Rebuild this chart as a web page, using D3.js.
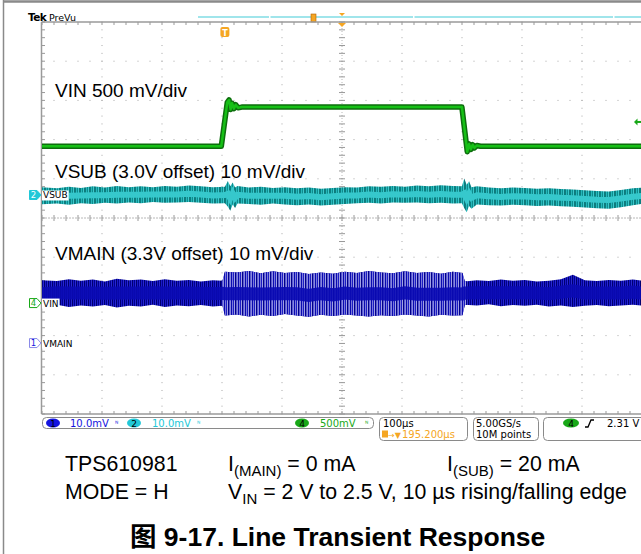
<!DOCTYPE html>
<html><head><meta charset="utf-8">
<script src="https://cdn.jsdelivr.net/npm/d3@7"></script>
<style>body{margin:0;background:#fff}svg{display:block}</style>
</head><body>
<svg id="c" width="641" height="554"></svg>
<script>
// ---------------- DATA ----------------
// screen: 10 horizontal divisions of 100 µs, 10 vertical divisions
const timePerDiv = 100;           // µs/div
const centerDelay = 195.2;        // µs, trigger -> screen centre
const chNames   = ["1", "2", "4"];
const chSignals = ["VMAIN", "VSUB", "VIN"];
const chScales  = [10, 10, 0.5];        // mV/div, mV/div, V/div
const chPositions = [-3.19, 0.587, -2.17]; // divisions of 0-level marker
const chColors  = ["#1414e0", "#22c8d8", "#18a818"];
const chReadouts = ["10.0mV", "10.0mV", "500mV"];

// VIN (V) — channel 4
const vinT = [-310, -6, 4, 7, 9.5, 12, 15, 18, 22, 28, 395, 404, 407, 410, 413, 416, 420, 426, 700];
const vinV = [2.0, 2.0, 2.56, 2.59, 2.47, 2.55, 2.48, 2.53, 2.49, 2.5, 2.5, 1.93, 2.03, 1.96, 2.02, 1.98, 2.01, 2.0, 2.0];

// VSUB envelope (mV about 3.0 V offset) — channel 2
const vsubT  = [-310,-280,-260,-240,-220,-200,-180,-160,-140,-120,-100,-80,-60,-40,-20,0,5,9,13,17,21,40,60,80,100,120,140,160,180,200,220,240,260,280,300,320,340,360,380,395,399,403,407,411,420,440,460,480,500,520,540,560,580,600,620,640,660,680,700];
const vsubHi = [2.0,1.7,2.1,1.8,2.2,1.9,2.3,2.0,2.2,2.0,2.3,2.1,2.4,2.2,2.0,2.1,3.6,2.2,3.2,1.9,2.3,1.9,2.1,1.8,2.0,1.7,1.9,1.6,1.8,2.0,1.9,2.2,2.1,2.3,2.1,2.4,2.2,2.5,2.3,2.2,4.2,2.6,3.5,2.0,2.2,1.9,1.7,1.9,1.8,1.6,1.7,1.5,1.4,1.2,1.0,0.9,1.3,1.7,1.9];
const vsubLo = [-2.4,-2.2,-2.5,-2.1,-2.3,-2.0,-2.2,-1.9,-2.1,-1.8,-2.0,-1.9,-1.8,-2.0,-2.2,-2.1,-3.0,-4.0,-2.4,-3.3,-2.2,-2.3,-2.5,-2.2,-2.4,-2.6,-2.4,-2.7,-2.5,-2.3,-2.1,-2.0,-2.2,-1.9,-2.0,-1.9,-2.1,-2.0,-2.2,-2.1,-3.4,-4.4,-2.8,-3.5,-2.4,-2.6,-2.7,-2.5,-2.6,-2.8,-2.7,-2.9,-3.0,-3.2,-3.4,-3.5,-3.1,-2.6,-2.2];

// VMAIN envelope (mV about 3.3 V offset) — channel 1
const vmainT  = [-310,-280,-260,-240,-220,-200,-180,-160,-140,-120,-100,-80,-60,-40,-20,-4,0,20,40,60,80,100,120,140,160,180,200,220,240,260,280,300,320,340,360,380,396,400,420,440,460,480,500,520,540,560,580,600,620,640,660,680,700];
const vmainHi = [16.1,15.8,16.3,15.9,16.2,15.7,16.4,16.0,16.2,15.8,16.3,15.9,16.1,15.7,16.0,15.9,18.2,18.0,18.4,17.8,18.3,17.9,18.1,17.6,18.0,17.7,18.2,17.9,18.4,18.0,17.8,18.3,17.9,18.1,17.7,18.2,17.9,15.7,16.0,15.8,16.2,15.9,16.1,15.7,15.9,16.3,17.4,16.0,15.8,16.1,15.9,16.2,15.8];
const vmainLo = [9.0,9.8,9.2,9.6,9.3,9.7,9.1,9.5,9.3,9.8,9.2,9.6,9.4,9.7,9.3,9.5,7.0,7.3,6.8,7.2,6.9,7.4,7.0,6.7,7.2,6.9,7.3,7.0,6.8,7.1,6.9,7.3,7.0,6.8,7.2,7.0,7.1,9.8,9.6,9.9,9.4,9.7,9.5,9.8,9.3,9.6,9.2,9.5,9.7,9.4,9.6,9.8,9.5];

const trigLevel = 2.31; // V on channel 4
const traceLabels = ["VIN 500 mV/div", "VSUB (3.0V offset) 10 mV/div", "VMAIN (3.3V offset) 10 mV/div"];
const timebaseText = "100µs", delayText = "195.200µs", rateText = "5.00GS/s", recText = "10M points", trigText = "2.31 V";

// ---------------- SCALES ----------------
const svg = d3.select("#c");
const X0 = 42, X1 = 642, Y0 = 22, Y1 = 414;
const xDiv = d3.scaleLinear().domain([-5, 5]).range([X0, X1]);
const yDiv = d3.scaleLinear().domain([-5, 5]).range([Y1, Y0]);
const x = d3.scaleLinear().domain([centerDelay - 5 * timePerDiv, centerDelay + 5 * timePerDiv]).range([X0, X1]);
const chY = i => d3.scaleLinear().domain([0, chScales[i]]).range([yDiv(chPositions[i]), yDiv(chPositions[i] + 1)]);
const y1 = chY(0), y2 = chY(1), y4 = chY(2);

const defs = svg.append("defs");
defs.append("clipPath").attr("id", "plot").append("rect").attr("x", X0).attr("y", Y0).attr("width", X1 - X0).attr("height", Y1 - Y0);
function stripes(id, cols, h) {
  const p = defs.append("pattern").attr("id", id).attr("patternUnits", "userSpaceOnUse")
    .attr("width", cols.length).attr("height", h || 5);
  cols.forEach((c, i) => p.append("rect").attr("x", i).attr("y", 0).attr("width", 1).attr("height", h || 5).attr("fill", c));
}
stripes("cyanS", ["#0b7f80", "#26b8bb", "#0e8c8e", "#3cc9cc", "#127a7c"]);
stripes("blueDark", ["#00006e", "#1a1ac8", "#000090", "#2828d0"]);
stripes("blueLight", ["#0a0ab0", "#7a7ad8", "#1c1cc4", "#a0a0e4", "#000088", "#5a5ad0", "#8888dc"]);

// ---------------- FRAME ----------------
svg.append("line").attr("x1", 3.5).attr("x2", 3.5).attr("y1", 0).attr("y2", 554).attr("stroke", "#8a8a8a").attr("stroke-width", 1.5);
svg.append("line").attr("x1", 3).attr("x2", 641).attr("y1", 1.5).attr("y2", 1.5).attr("stroke", "#8a8a8a").attr("stroke-width", 2.5);

svg.append("text").attr("x", 28).attr("y", 21).attr("font-family", "DejaVu Sans").attr("font-size", 10.5).attr("font-weight", "bold").attr("letter-spacing", -0.6).text("Tek");
svg.append("text").attr("x", 49).attr("y", 21).attr("font-family", "DejaVu Sans").attr("font-size", 9.5).text("PreVu");

// record view bar
svg.append("line").attr("x1", 198).attr("x2", 641).attr("y1", 17).attr("y2", 17).attr("stroke", "#80dce4").attr("stroke-width", 1.5);
[269, 413, 613].forEach(g => svg.append("rect").attr("x", g).attr("y", 15).attr("width", 1.5).attr("height", 4).attr("fill", "#fff"));
svg.append("rect").attr("x", 311).attr("y", 14).attr("width", 5).attr("height", 8).attr("fill", "#f5a623").attr("stroke", "#b06000").attr("stroke-width", 0.6);
svg.append("path").attr("d", `M${x(centerDelay)-3},13 L${x(centerDelay)+3},13 L${x(centerDelay)},16 Z`).attr("fill", "#f5a623");

// ---------------- GRATICULE ----------------
const g = svg.append("g");
const dot = "#a8a8a8";
for (let i = -4; i <= 4; i++) {
  if (i === 0) continue;
  for (let k = 0; k <= 50; k++) {
    g.append("rect").attr("x", xDiv(i) - 0.5).attr("y", yDiv(-5 + k / 5) - 0.5).attr("width", 1).attr("height", 1).attr("fill", dot);
    g.append("rect").attr("x", xDiv(-5 + k / 5) - 0.5).attr("y", yDiv(i) - 0.5).attr("width", 1).attr("height", 1).attr("fill", dot);
  }
}
// centre lines
g.append("line").attr("x1", xDiv(0)).attr("x2", xDiv(0)).attr("y1", Y0).attr("y2", Y1).attr("stroke", "#b8b8b8").attr("stroke-dasharray", "1,2");
g.append("line").attr("x1", X0).attr("x2", X1).attr("y1", yDiv(0)).attr("y2", yDiv(0)).attr("stroke", "#b8b8b8").attr("stroke-dasharray", "2,1");
for (let k = 0; k <= 50; k++) {
  g.append("line").attr("x1", xDiv(0) - 3).attr("x2", xDiv(0) + 3).attr("y1", yDiv(-5 + k / 5)).attr("y2", yDiv(-5 + k / 5)).attr("stroke", "#999");
  g.append("line").attr("x1", xDiv(-5 + k / 5)).attr("x2", xDiv(-5 + k / 5)).attr("y1", yDiv(0) - 3).attr("y2", yDiv(0) + 3).attr("stroke", "#999");
  g.append("line").attr("x1", xDiv(-5 + k / 5)).attr("x2", xDiv(-5 + k / 5)).attr("y1", Y0).attr("y2", Y0 + 3).attr("stroke", "#999");
  g.append("line").attr("x1", xDiv(-5 + k / 5)).attr("x2", xDiv(-5 + k / 5)).attr("y1", Y1).attr("y2", Y1 - 3).attr("stroke", "#999");
  g.append("line").attr("x1", X0).attr("x2", X0 + 3).attr("y1", yDiv(-5 + k / 5)).attr("y2", yDiv(-5 + k / 5)).attr("stroke", "#999");
}
g.append("line").attr("x1", X0 - 0.5).attr("x2", X1).attr("y1", Y0).attr("y2", Y0).attr("stroke", "#9a9a9a").attr("stroke-width", 1.5);
g.append("line").attr("x1", X0 - 0.5).attr("x2", X1).attr("y1", Y1).attr("y2", Y1).attr("stroke", "#9a9a9a").attr("stroke-width", 1.5);
g.append("line").attr("x1", X0 - 0.5).attr("x2", X0 - 0.5).attr("y1", Y0).attr("y2", Y1).attr("stroke", "#9a9a9a").attr("stroke-width", 1.5);

// trigger position markers
svg.append("path").attr("d", `M${x(centerDelay)-4},23 L${x(centerDelay)+4},23 L${x(centerDelay)},27 Z`).attr("fill", "#f5a623");
svg.append("rect").attr("x", x(0) - 4.5).attr("y", 27).attr("width", 9).attr("height", 10).attr("rx", 2).attr("fill", "#f5a623");
svg.append("text").attr("x", x(0)).attr("y", 35.5).attr("text-anchor", "middle").attr("font-family", "DejaVu Sans").attr("font-weight", "bold").attr("font-size", 8).attr("fill", "#fff").text("T");

// ---------------- TRACES ----------------
const tr = svg.append("g").attr("clip-path", "url(#plot)");

// VMAIN
const vmainArea = d3.area().x((d, i) => x(vmainT[i])).y0((d, i) => y1(vmainLo[i])).y1((d, i) => y1(vmainHi[i]));
tr.append("path").attr("d", vmainArea(vmainT)).attr("fill", "url(#blueDark)");
defs.append("clipPath").attr("id", "burst").append("rect")
  .attr("x", x(vinT[1])).attr("y", Y0).attr("width", x(vinT[11]) - x(vinT[1])).attr("height", Y1 - Y0);
tr.append("g").attr("clip-path", "url(#burst)").append("path").attr("d", vmainArea(vmainT)).attr("fill", "url(#blueLight)");
const vmainMid = d3.line().x((d, i) => x(vmainT[i])).y((d, i) => y1((vmainHi[i] + vmainLo[i]) / 2));
tr.append("path").attr("d", vmainMid(vmainT)).attr("fill", "none").attr("stroke", "#0a0ab4").attr("stroke-width", 13).attr("opacity", 0.9);

// VSUB
const vsubArea = d3.area().x((d, i) => x(vsubT[i])).y0((d, i) => y2(vsubLo[i])).y1((d, i) => y2(vsubHi[i]));
tr.append("path").attr("d", vsubArea(vsubT)).attr("fill", "url(#cyanS)");
const vsubMid = d3.line().x((d, i) => x(vsubT[i])).y((d, i) => y2((vsubHi[i] + vsubLo[i]) / 2));
tr.append("path").attr("d", vsubMid(vsubT)).attr("fill", "none").attr("stroke", "#36c8cc").attr("stroke-width", 6);

// VIN
const vinLine = d3.line().x((d, i) => x(vinT[i])).y((d, i) => y4(vinV[i]));
tr.append("path").attr("d", vinLine(vinT)).attr("fill", "none").attr("stroke", "#0d6e0d").attr("stroke-width", 5.5).attr("stroke-linejoin", "round");
tr.append("path").attr("d", vinLine(vinT)).attr("fill", "none").attr("stroke", "#16c016").attr("stroke-width", 2.5).attr("stroke-linejoin", "round");

// trigger level marker (right edge)
const ty = y4(trigLevel);
svg.append("path").attr("d", `M634,${ty} L637.5,${ty-3.5} L637.5,${ty+3.5} Z`).attr("fill", "#18a818");
svg.append("line").attr("x1", 636).attr("x2", 641).attr("y1", ty).attr("y2", ty).attr("stroke", "#18a818").attr("stroke-width", 2);

// ---------------- LABELS ----------------
const lblY = [97, 178, 260];
traceLabels.forEach((t, i) => svg.append("text").attr("x", 55).attr("y", lblY[i])
  .attr("font-family", "Liberation Sans, Arial, sans-serif").attr("font-size", 19).attr("fill", "#000").text(t));

// channel zero markers at the left
const scales = [y1, y2, y4];
chNames.forEach((n, i) => {
  const yy = scales[i](0);
  const filled = n === "2";
  svg.append("path").attr("d", `M29.5,${yy-4.5} L37,${yy-4.5} L41,${yy} L37,${yy+4.5} L29.5,${yy+4.5} Z`)
    .attr("fill", filled ? chColors[i] : "#fff").attr("stroke", n === "1" ? "#8a8ae8" : chColors[i]).attr("stroke-width", 1);
  svg.append("text").attr("x", 33.5).attr("y", yy + 3.3).attr("text-anchor", "middle").attr("font-family", "DejaVu Sans")
    .attr("font-size", 8.5).attr("fill", filled ? "#fff" : chColors[i]).text(n);
  const lbl = svg.append("text").attr("x", 43).attr("y", yy + 3.5).attr("font-family", "DejaVu Sans").attr("font-size", 9).attr("fill", "#000").text(chSignals[i]);
  const bb = lbl.node().getBBox();
  svg.insert("rect", () => lbl.node()).attr("x", bb.x - 1).attr("y", bb.y).attr("width", bb.width + 2).attr("height", bb.height).attr("fill", "#fff");
});

// ---------------- STATUS BAR ----------------
const sb = svg.append("g").attr("font-family", "DejaVu Sans").attr("font-size", 10);
function box(x0, w, h) { sb.append("rect").attr("x", x0 + 0.5).attr("y", 417.5).attr("width", w).attr("height", h).attr("rx", 4).attr("fill", "#fff").attr("stroke", "#8a8a8a"); }
box(42, 331, 11); box(379, 88, 23); box(473, 65, 23); box(543, 110, 23);
const badgeX = [53, 134, 302], readX = [70, 152, 320];
chNames.forEach((n, i) => {
  sb.append("ellipse").attr("cx", badgeX[i]).attr("cy", 423).attr("rx", 7).attr("ry", 4.5).attr("fill", chColors[i]);
  sb.append("text").attr("x", badgeX[i]).attr("y", 426.5).attr("text-anchor", "middle").attr("font-size", 9).attr("fill", "#000").text(n);
  sb.append("text").attr("x", readX[i]).attr("y", 427).attr("fill", chColors[i]).text(chReadouts[i]);
  sb.append("text").attr("x", readX[i] + 45).attr("y", 426).attr("font-size", 7).attr("fill", chColors[i]).text("ᴺ");
});
sb.append("text").attr("x", 383).attr("y", 427).attr("fill", "#000").text(timebaseText);
sb.append("rect").attr("x", 382).attr("y", 430.5).attr("width", 6).attr("height", 7).attr("fill", "#f5a623");
sb.append("text").attr("x", 388).attr("y", 437.5).attr("font-size", 8).attr("fill", "#f5a623").text("→▼");
sb.append("text").attr("x", 402).attr("y", 438).attr("fill", "#f5a623").text(delayText);
sb.append("text").attr("x", 476).attr("y", 427).attr("fill", "#000").text(rateText);
sb.append("text").attr("x", 476).attr("y", 438).attr("fill", "#000").text(recText);
sb.append("ellipse").attr("cx", 571).attr("cy", 423).attr("rx", 8).attr("ry", 4.5).attr("fill", chColors[2]);
sb.append("text").attr("x", 571).attr("y", 426.5).attr("text-anchor", "middle").attr("font-size", 9).attr("fill", "#000").text("4");
sb.append("path").attr("d", "M585,427 L588,427 L591,420 L594,420").attr("fill", "none").attr("stroke", "#000").attr("stroke-width", 1.3);
sb.append("text").attr("x", 607).attr("y", 427).attr("fill", "#000").text(trigText);

// ---------------- CAPTION TEXT ----------------
const ft = "Liberation Sans, Arial, sans-serif";
const cap = svg.append("g").attr("font-family", ft).attr("font-size", 21.3).attr("fill", "#000");
cap.append("text").attr("x", 65).attr("y", 471).text("TPS610981");
const t1 = cap.append("text").attr("x", 228).attr("y", 471);
t1.append("tspan").text("I");
t1.append("tspan").attr("font-size", 15).attr("dy", 5).text("(MAIN)");
t1.append("tspan").attr("dy", -5).text(" = 0 mA");
const t2 = cap.append("text").attr("x", 447).attr("y", 471);
t2.append("tspan").text("I");
t2.append("tspan").attr("font-size", 15).attr("dy", 5).text("(SUB)");
t2.append("tspan").attr("dy", -5).text(" = 20 mA");
cap.append("text").attr("x", 65).attr("y", 499).text("MODE = H");
const t3 = cap.append("text").attr("x", 228).attr("y", 499);
t3.append("tspan").text("V");
t3.append("tspan").attr("font-size", 15).attr("dy", 5).text("IN");
t3.append("tspan").attr("dy", -5).text(" = 2 V to 2.5 V, 10 µs rising/falling edge");
svg.append("text").attr("x", 130).attr("y", 546).attr("font-family", "Liberation Sans, Noto Sans CJK SC, sans-serif")
  .attr("font-weight", "bold").attr("font-size", 26.5).attr("fill", "#000").text("图 9-17. Line Transient Response");
</script>
</body></html>
